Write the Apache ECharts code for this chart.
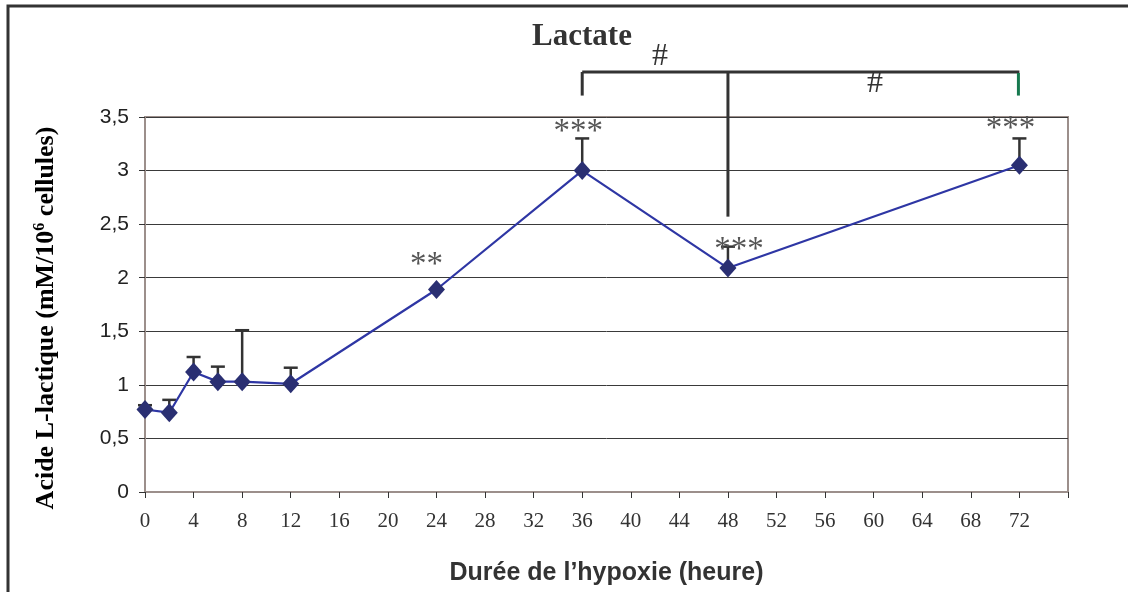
<!DOCTYPE html>
<html>
<head>
<meta charset="utf-8">
<script src="https://cdn.jsdelivr.net/npm/echarts@6/dist/echarts.min.js"></script>
<style>
  html, body { margin: 0; padding: 0; background: #fff; }
  #chart { width: 1128px; height: 592px; }
</style>
</head>
<body>
<div id="chart"></div>
<script>
// Lactate time course under hypoxia (mean + upper SD)
const hours = [0, 2, 4, 6, 8, 12, 24, 36, 48, 72];
const lactate = [0.77, 0.74, 1.12, 1.03, 1.03, 1.01, 1.89, 3.00, 2.09, 3.05];
const errorUp = [0.04, 0.12, 0.14, 0.14, 0.48, 0.15, 0, 0.30, 0.20, 0.25];

// Significance versus control
const sigHours = [24, 36, 48, 72];
const sigMarks = ['**', '***', '***', '***'];

// Comparison bracket between 36 h, 48 h and 72 h
const bracketHours = [36, 48, 72];
const bracketMarks = ['#', '#'];

const yTickLabels = ['0', '0,5', '1', '1,5', '2', '2,5', '3', '3,5'];

// Pixel nudges for the star labels, relative to the top of each bar
const sigOffsets = [[-10, -24], [-4, -6], [11, 4], [-9, -9]];

const SERIF = '"Liberation Serif", "Times New Roman", serif';
const SANS = '"Liberation Sans", Arial, sans-serif';

const chart = echarts.init(document.getElementById('chart'));

const pointData = hours.map((h, i) => [h, lactate[i], errorUp[i]]);
const sigData = sigHours.map((h, i) => {
  const k = hours.indexOf(h);
  return [h, lactate[k] + errorUp[k], i];
});

chart.setOption({
  animation: false,
  backgroundColor: '#fff',
  grid: {
    left: 145, right: 60, top: 117, bottom: 100,
    outerBoundsMode: 'none', containLabel: false,
    show: true, borderColor: '#9c8f8b', borderWidth: 2, backgroundColor: 'transparent'
  },
  xAxis: {
    type: 'value', min: 0, max: 76, interval: 4,
    name: 'Durée de l’hypoxie (heure)',
    nameLocation: 'middle', nameGap: 69,
    nameTextStyle: { fontFamily: SANS, fontWeight: 'bold', fontSize: 25, color: '#333' },
    axisLine: { show: true, onZero: false, lineStyle: { color: '#9c8f8b', width: 2 } },
    axisTick: { show: true, length: 6, lineStyle: { color: '#333', width: 1 } },
    axisLabel: {
      margin: 19, fontFamily: SERIF, fontSize: 21, color: '#333',
      formatter: v => (v <= 72 ? String(v) : '')
    },
    splitLine: { show: false }
  },
  yAxis: {
    type: 'value', min: 0, max: 3.5, interval: 0.5,
    axisLine: { show: true, lineStyle: { color: '#9c8f8b', width: 2 } },
    axisTick: { show: true, length: 6, lineStyle: { color: '#333', width: 1 } },
    axisLabel: {
      margin: 16, fontFamily: SANS, fontSize: 21, color: '#222',
      formatter: v => yTickLabels[Math.round(v / 0.5)]
    },
    splitLine: { show: true, lineStyle: { color: '#3a3a3a', width: 1 } }
  },
  graphic: [
    {
      type: 'rect', silent: true, z: 100,
      shape: { x: 8, y: 6, width: 1200, height: 700 },
      style: { fill: 'none', stroke: '#333', lineWidth: 3 }
    },
    {
      type: 'text', x: 582, y: 37, z: 100,
      style: {
        text: 'Lactate', font: 'bold 31px ' + SERIF, fill: '#333',
        textAlign: 'center', textVerticalAlign: 'middle'
      }
    },
    {
      type: 'text', x: 46, y: 318, rotation: Math.PI / 2, z: 100,
      style: {
        text: '{b|Acide L-lactique (mM/10}{s|6}{b| cellules)}',
        textAlign: 'center', textVerticalAlign: 'middle',
        rich: {
          b: { fontFamily: SERIF, fontWeight: 'bold', fontSize: 26, color: '#333', lineHeight: 29 },
          s: { fontFamily: SERIF, fontWeight: 'bold', fontSize: 16, color: '#333', verticalAlign: 'top', lineHeight: 29 }
        }
      }
    }
  ],
  series: [
    {
      // error bars (upper whisker only)
      type: 'custom',
      z: 2,
      clip: false,
      data: pointData,
      renderItem: (params, api) => {
        const x = api.value(0), v = api.value(1), e = api.value(2);
        if (!e) return null;
        const p0 = api.coord([x, v]);
        const p1 = api.coord([x, v + e]);
        return {
          type: 'group',
          children: [
            { type: 'line', shape: { x1: p0[0], y1: p0[1], x2: p1[0], y2: p1[1] },
              style: { stroke: '#333', lineWidth: 2.5 } },
            { type: 'line', shape: { x1: p1[0] - 7, y1: p1[1], x2: p1[0] + 7, y2: p1[1] },
              style: { stroke: '#333', lineWidth: 2.5 } }
          ]
        };
      }
    },
    {
      type: 'line',
      z: 3,
      data: pointData.map(d => [d[0], d[1]]),
      symbol: 'diamond',
      symbolSize: [17, 19],
      itemStyle: { color: '#2a2f72' },
      lineStyle: { color: '#2e36a4', width: 2.2 }
    },
    {
      // significance stars
      type: 'custom',
      z: 4,
      clip: false,
      data: sigData,
      renderItem: (params, api) => {
        const i = api.value(2);
        const p = api.coord([api.value(0), api.value(1)]);
        const off = sigOffsets[i];
        return {
          type: 'text',
          x: p[0] + off[0], y: p[1] + off[1],
          style: {
            text: sigMarks[i], font: '33px ' + SERIF, fill: '#555',
            textAlign: 'center', textVerticalAlign: 'middle'
          }
        };
      }
    },
    {
      // bracket comparing 36 h / 48 h / 72 h
      type: 'custom',
      z: 5,
      clip: false,
      data: [[bracketHours[0], bracketHours[1], bracketHours[2]]],
      renderItem: (params, api) => {
        const a = api.value(0), m = api.value(1), b = api.value(2);
        const topY = 3.92, armY = 3.70, midY = 2.57;
        const pa = api.coord([a, topY]), pb = api.coord([b, topY]), pm = api.coord([m, topY]);
        const pa2 = api.coord([a, armY]), pb2 = api.coord([b, armY]), pm2 = api.coord([m, midY]);
        const h1 = api.coord([(a + m) / 2 + 0.4, 4.06]);
        const h2 = api.coord([(m + b) / 2 + 0.1, 3.81]);
        const ls = { stroke: '#333', lineWidth: 3 };
        return {
          type: 'group',
          children: [
            { type: 'line', shape: { x1: pa[0], y1: pa[1], x2: pb[0], y2: pb[1] }, style: ls },
            { type: 'line', shape: { x1: pa[0], y1: pa[1], x2: pa2[0], y2: pa2[1] }, style: ls },
            { type: 'line', shape: { x1: pm[0], y1: pm[1], x2: pm2[0], y2: pm2[1] }, style: ls },
            { type: 'line', shape: { x1: pb[0] - 1, y1: pb[1] + 1, x2: pb2[0] - 1, y2: pb2[1] },
              style: { stroke: '#17794f', lineWidth: 3 } },
            { type: 'text', x: h1[0], y: h1[1],
              style: { text: bracketMarks[0], font: '32px ' + SERIF, fill: '#333',
                       textAlign: 'center', textVerticalAlign: 'middle' } },
            { type: 'text', x: h2[0], y: h2[1],
              style: { text: bracketMarks[1], font: '32px ' + SERIF, fill: '#333',
                       textAlign: 'center', textVerticalAlign: 'middle' } }
          ]
        };
      }
    }
  ]
});
</script>
</body>
</html>
